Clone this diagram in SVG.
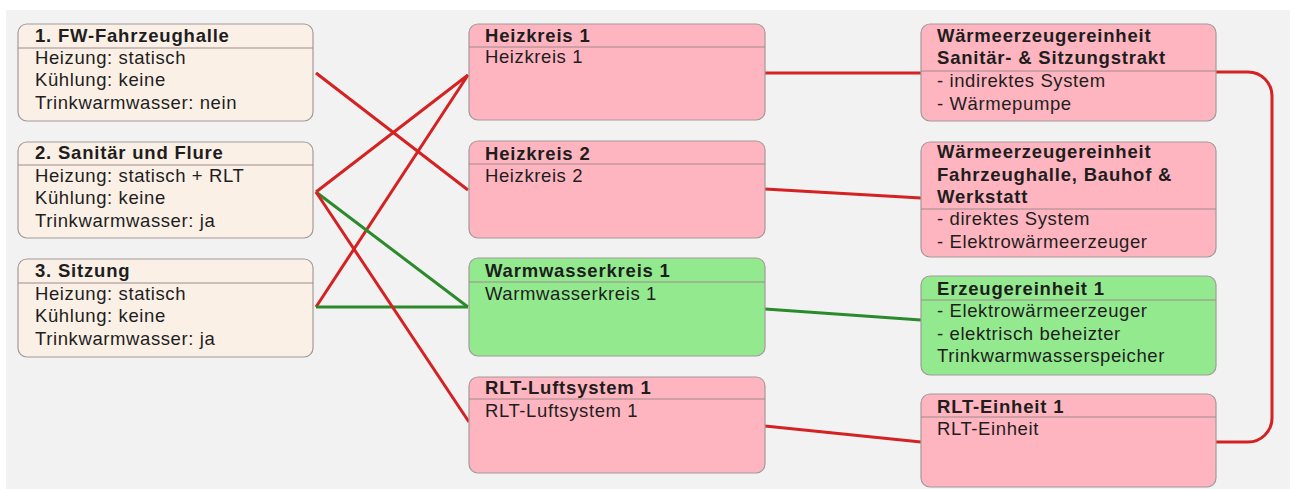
<svg xmlns="http://www.w3.org/2000/svg" width="1299" height="489" viewBox="0 0 1299 489">
<style>
.bg{fill:#f2f2f2}
.box{stroke:#a39a9a;stroke-width:1.2}
.beige{fill:#fbf0e6}
.pink{fill:#ffb5c0}
.green{fill:#93ea8e}
.hdr{stroke:#a08a8e;stroke-width:1}
text{font-family:"Liberation Sans",Arial,sans-serif;font-size:18.5px;letter-spacing:0.6px;fill:#1e1e1e}
.t{font-weight:bold;letter-spacing:0.8px}
.red{stroke:#d42222;stroke-width:3;fill:none}
.grn{stroke:#2b8a2b;stroke-width:3;fill:none}
</style>
<rect width="1299" height="489" fill="#ffffff"/>
<rect class="bg" x="6" y="10" width="1284" height="479"/>
<g id="connectors">
<line class="red" x1="316" y1="73" x2="468" y2="190"/>
<line class="red" x1="316" y1="192" x2="468" y2="75"/>
<line class="red" x1="316" y1="307" x2="468" y2="75"/>
<line class="grn" x1="316" y1="192" x2="468" y2="307"/>
<line class="grn" x1="316" y1="307" x2="468" y2="307"/>
<line class="red" x1="316" y1="192" x2="469" y2="422"/>
<line class="red" x1="765" y1="73" x2="921" y2="73"/>
<line class="red" x1="765" y1="189" x2="921" y2="198"/>
<line class="grn" x1="765" y1="309" x2="921" y2="320"/>
<line class="red" x1="765" y1="426" x2="921" y2="442"/>
<path class="red" d="M1216 72 H1248 A24 24 0 0 1 1272 96 V418 A24 24 0 0 1 1248 442 H1216"/>
</g>
<g id="n1">
<rect class="box beige" x="18" y="24" width="295" height="97" rx="9"/>
<line class="hdr" x1="18" y1="48" x2="313" y2="48"/>
<text class="t" x="35" y="42">1. FW-Fahrzeughalle</text>
<text x="35" y="64">Heizung: statisch</text>
<text x="35" y="86">Kühlung: keine</text>
<text x="35" y="109">Trinkwarmwasser: nein</text>
</g>
<g id="n2">
<rect class="box beige" x="18" y="142" width="295" height="96" rx="9"/>
<line class="hdr" x1="18" y1="165" x2="313" y2="165"/>
<text class="t" x="35" y="159">2. Sanitär und Flure</text>
<text x="35" y="182">Heizung: statisch + RLT</text>
<text x="35" y="204">Kühlung: keine</text>
<text x="35" y="227">Trinkwarmwasser: ja</text>
</g>
<g id="n3">
<rect class="box beige" x="18" y="259" width="295" height="98" rx="9"/>
<line class="hdr" x1="18" y1="283" x2="313" y2="283"/>
<text class="t" x="35" y="277">3. Sitzung</text>
<text x="35" y="300">Heizung: statisch</text>
<text x="35" y="322">Kühlung: keine</text>
<text x="35" y="345">Trinkwarmwasser: ja</text>
</g>
<g id="hk1">
<rect class="box pink" x="469" y="24" width="296" height="96" rx="9"/>
<line class="hdr" x1="469" y1="47" x2="765" y2="47"/>
<text class="t" x="485" y="42">Heizkreis 1</text>
<text x="485" y="63">Heizkreis 1</text>
</g>
<g id="hk2">
<rect class="box pink" x="469" y="141" width="296" height="97" rx="9"/>
<line class="hdr" x1="469" y1="164" x2="765" y2="164"/>
<text class="t" x="485" y="160">Heizkreis 2</text>
<text x="485" y="182">Heizkreis 2</text>
</g>
<g id="ww1">
<rect class="box green" x="469" y="258" width="296" height="98" rx="9"/>
<line class="hdr" x1="469" y1="282" x2="765" y2="282"/>
<text class="t" x="485" y="277">Warmwasserkreis 1</text>
<text x="485" y="300">Warmwasserkreis 1</text>
</g>
<g id="rlt1">
<rect class="box pink" x="469" y="377" width="296" height="96" rx="9"/>
<line class="hdr" x1="469" y1="399" x2="765" y2="399"/>
<text class="t" x="485" y="394">RLT-Luftsystem 1</text>
<text x="485" y="417">RLT-Luftsystem 1</text>
</g>
<g id="wea">
<rect class="box pink" x="921" y="24" width="295" height="97" rx="9"/>
<line class="hdr" x1="921" y1="71" x2="1216" y2="71"/>
<text class="t" x="937" y="42">Wärmeerzeugereinheit</text>
<text class="t" x="937" y="64">Sanitär- &amp; Sitzungstrakt</text>
<text x="937" y="87">- indirektes System</text>
<text x="937" y="110">- Wärmepumpe</text>
</g>
<g id="web">
<rect class="box pink" x="921" y="142" width="295" height="115" rx="9"/>
<line class="hdr" x1="921" y1="209" x2="1216" y2="209"/>
<text class="t" x="937" y="158">Wärmeerzeugereinheit</text>
<text class="t" x="937" y="181">Fahrzeughalle, Bauhof &amp;</text>
<text class="t" x="937" y="203">Werkstatt</text>
<text x="937" y="225">- direktes System</text>
<text x="937" y="248">- Elektrowärmeerzeuger</text>
</g>
<g id="ee1">
<rect class="box green" x="921" y="276" width="295" height="99" rx="9"/>
<line class="hdr" x1="921" y1="300" x2="1216" y2="300"/>
<text class="t" x="937" y="295">Erzeugereinheit 1</text>
<text x="937" y="317">- Elektrowärmeerzeuger</text>
<text x="937" y="340">- elektrisch beheizter</text>
<text x="937" y="362">Trinkwarmwasserspeicher</text>
</g>
<g id="rlte">
<rect class="box pink" x="921" y="394" width="295" height="93" rx="9"/>
<line class="hdr" x1="921" y1="417" x2="1216" y2="417"/>
<text class="t" x="937" y="413">RLT-Einheit 1</text>
<text x="937" y="435">RLT-Einheit</text>
</g>
</svg>
